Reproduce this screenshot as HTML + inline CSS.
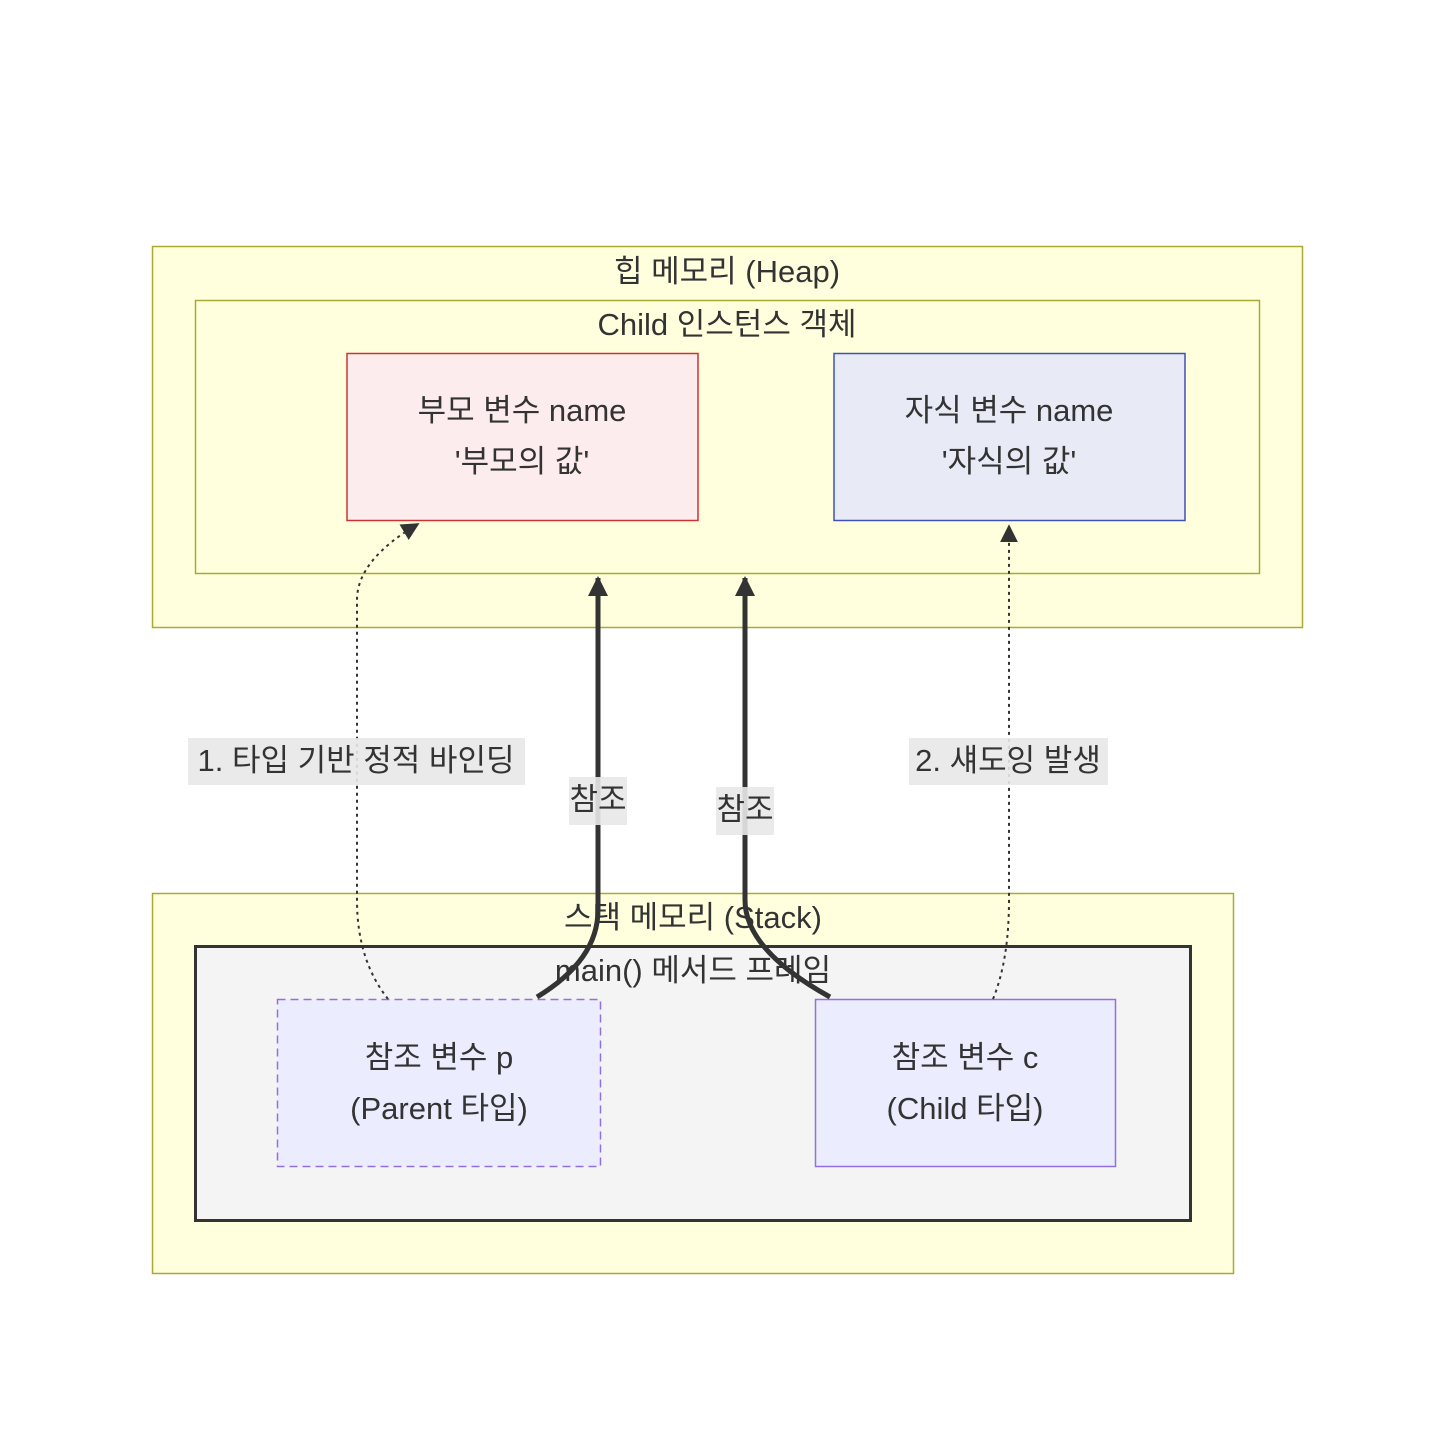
<!DOCTYPE html>
<html><head><meta charset="utf-8"><style>
html,body{margin:0;padding:0;background:#fff;}
svg text{font-family:"Liberation Sans","Noto Sans CJK KR",sans-serif;fill:#333;}
</style></head><body>
<svg width="1432" height="1446" viewBox="0 0 1432 1446" xmlns="http://www.w3.org/2000/svg">
<defs>
<marker id="ah" viewBox="0 0 10 10" refX="9" refY="5" markerWidth="4" markerHeight="4" orient="auto"><path d="M0,0L10,5L0,10z" fill="#333"/></marker>
<marker id="ah2" viewBox="0 0 10 10" refX="9" refY="5" markerWidth="9" markerHeight="9" orient="auto"><path d="M0,0L10,5L0,10z" fill="#333"/></marker>
</defs>
<rect width="1432" height="1446" fill="#fff"/>
<rect x="152.5" y="246.5" width="1150" height="381" fill="#ffffde" stroke="#aaaa33" stroke-width="1.5"/>
<rect x="195.5" y="300.5" width="1064" height="273" fill="#ffffde" stroke="#aaaa33" stroke-width="1.5"/>
<text x="727" y="282" font-size="31" text-anchor="middle">힙 메모리 (Heap)</text>
<text x="727" y="335" font-size="31" text-anchor="middle">Child 인스턴스 객체</text>
<rect x="347" y="353.5" width="351" height="167" fill="#fdecee" stroke="#cc3333" stroke-width="1.5"/>
<text x="522" y="421" font-size="31" text-anchor="middle">부모 변수 name</text>
<text x="522" y="472" font-size="31" text-anchor="middle">'부모의 값'</text>
<rect x="834" y="353.5" width="351" height="167" fill="#e8eaf6" stroke="#3f51b5" stroke-width="1.5"/>
<text x="1009" y="421" font-size="31" text-anchor="middle">자식 변수 name</text>
<text x="1009" y="472" font-size="31" text-anchor="middle">'자식의 값'</text>

<rect x="152.5" y="893.5" width="1081" height="380" fill="#ffffde" stroke="#aaaa33" stroke-width="1.5"/>
<rect x="195.5" y="946.5" width="995" height="274" fill="#f4f4f4" stroke="#333" stroke-width="3"/>
<text x="693" y="928" font-size="31" text-anchor="middle">스택 메모리 (Stack)</text>
<text x="693" y="981" font-size="31" text-anchor="middle">main() 메서드 프레임</text>
<rect x="277.5" y="999.5" width="323" height="167" fill="#ececff" stroke="#9370db" stroke-width="1.5" stroke-dasharray="8,5"/>
<text x="439" y="1068" font-size="31" text-anchor="middle">참조 변수 p</text>
<text x="439" y="1119" font-size="31" text-anchor="middle">(Parent 타입)</text>
<rect x="815.5" y="999.5" width="300" height="167" fill="#ececff" stroke="#9370db" stroke-width="1.5"/>
<text x="965" y="1068" font-size="31" text-anchor="middle">참조 변수 c</text>
<text x="965" y="1119" font-size="31" text-anchor="middle">(Child 타입)</text>

<path d="M388,999 Q357,960 357,900 L357,600 Q357,560 418,524" fill="none" stroke="#333" stroke-width="2" stroke-dasharray="3,4" marker-end="url(#ah2)"/>
<path d="M993,999 Q1009,960 1009,900 L1009,526" fill="none" stroke="#333" stroke-width="2" stroke-dasharray="3,4" marker-end="url(#ah2)"/>
<path d="M537,997 Q598,960 598,910 L598,578" fill="none" stroke="#333" stroke-width="5" marker-end="url(#ah)"/>
<path d="M830,997 Q745,950 745,900 L745,578" fill="none" stroke="#333" stroke-width="5" marker-end="url(#ah)"/>

<rect x="188" y="738" width="337" height="47" fill="#e8e8e8" opacity="0.9"/>
<text x="356" y="771" font-size="31" text-anchor="middle">1. 타입 기반 정적 바인딩</text>
<rect x="909" y="738" width="199" height="47" fill="#e8e8e8" opacity="0.9"/>
<text x="1008" y="771" font-size="31" text-anchor="middle">2. 섀도잉 발생</text>
<rect x="569" y="777" width="58" height="48" fill="#e8e8e8" opacity="0.9"/>
<text x="598" y="810" font-size="31" text-anchor="middle">참조</text>
<rect x="716" y="787" width="58" height="48" fill="#e8e8e8" opacity="0.9"/>
<text x="745" y="820" font-size="31" text-anchor="middle">참조</text>
</svg>
</body></html>
